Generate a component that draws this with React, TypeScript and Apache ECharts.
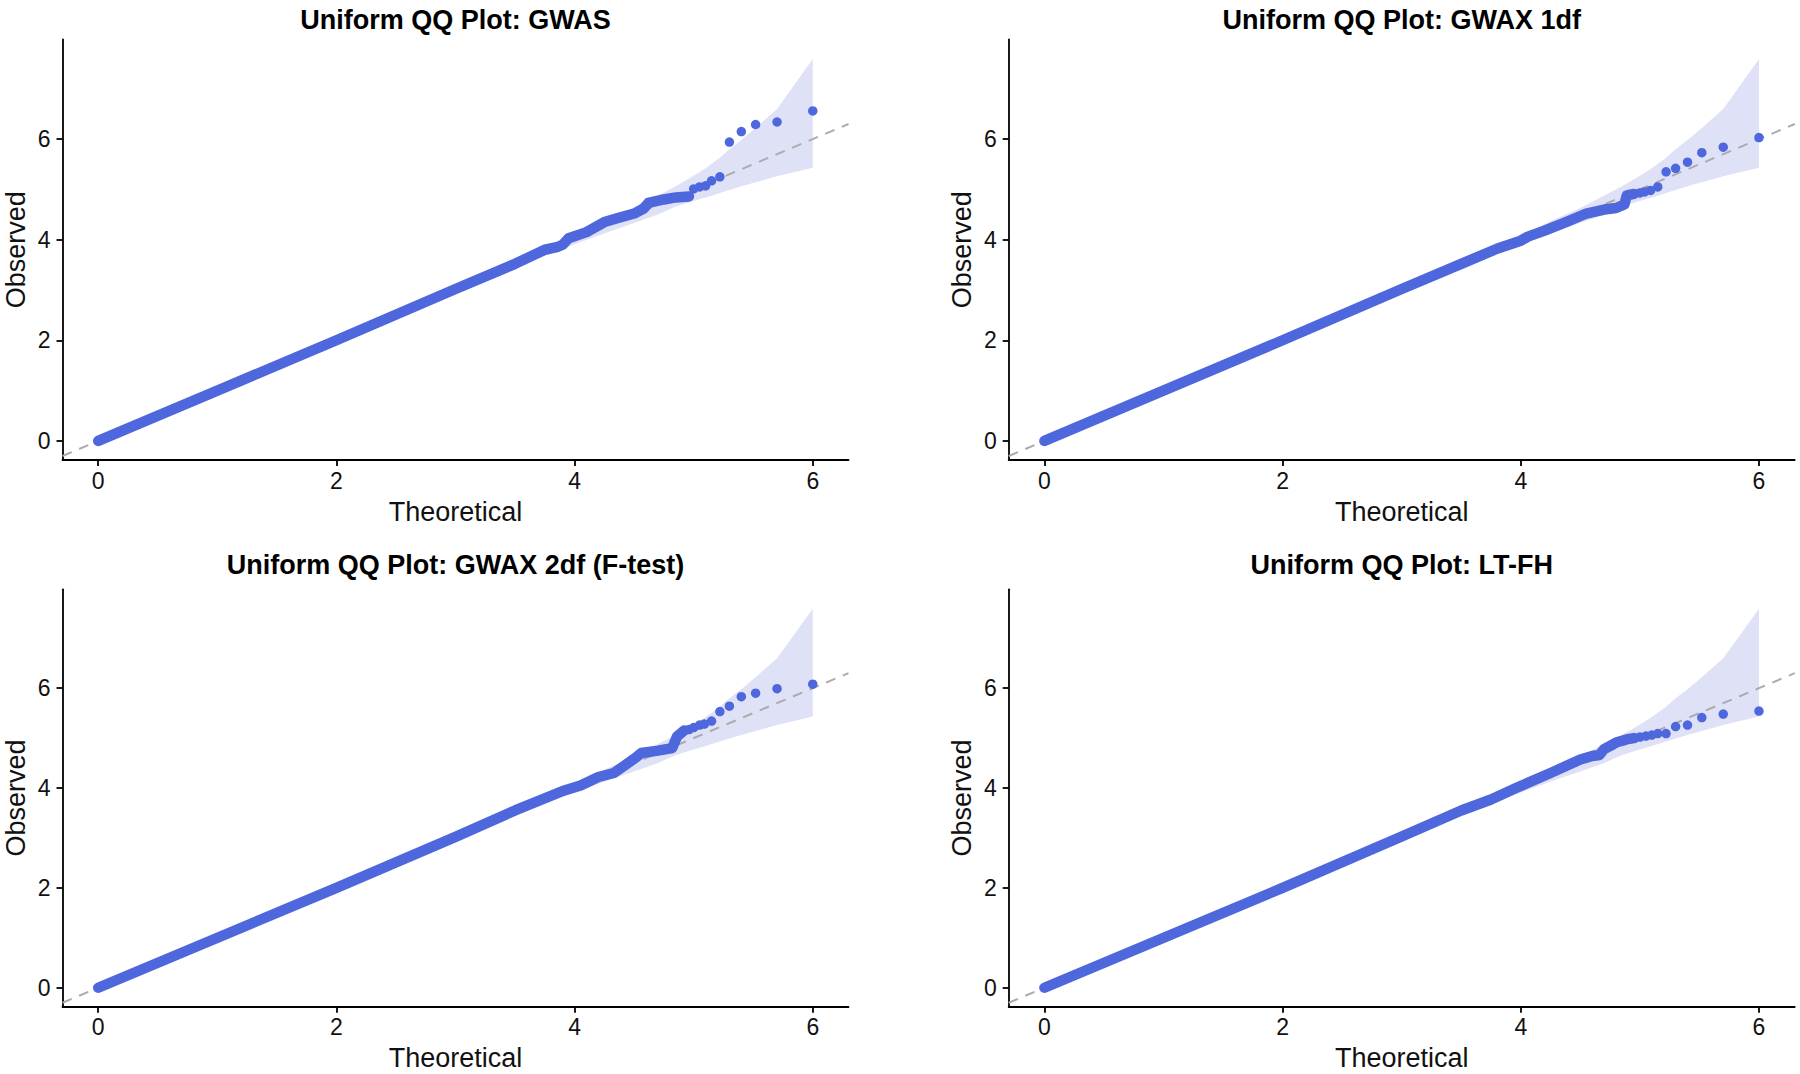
import React, { useEffect, useRef } from "react";
import * as echarts from "echarts";

// ---- Data ----
const tickValues = [0, 2, 4, 6];

const titles = [
  "Uniform QQ Plot: GWAS",
  "Uniform QQ Plot: GWAX 1df",
  "Uniform QQ Plot: GWAX 2df (F-test)",
  "Uniform QQ Plot: LT-FH",
];

// 95% confidence band (theoretical, lower, upper)
const bandX = [0, 1, 2, 3, 3.5, 4, 4.3, 4.5, 4.7, 4.85, 5.0, 5.1, 5.22, 5.3, 5.4, 5.52, 5.7, 6.0];
const bandLower = [0, 0.995, 1.985, 2.97, 3.45, 3.91, 4.17, 4.33, 4.5, 4.66, 4.77, 4.84, 4.93, 4.99, 5.06, 5.14, 5.26, 5.43];
const bandUpper = [0, 1.005, 2.015, 3.03, 3.55, 4.09, 4.42, 4.63, 4.88, 5.06, 5.27, 5.42, 5.63, 5.8, 5.98, 6.22, 6.6, 7.59];

// Dense bulk of points (drawn as a thick run of dots)
const gwasDense = [
  [0, 0], [1, 1], [2, 2], [3, 3.02], [3.5, 3.52], [3.75, 3.8], [3.85, 3.85], [3.9, 3.9],
  [3.95, 4.03], [4.1, 4.15], [4.25, 4.35], [4.35, 4.42], [4.5, 4.52], [4.58, 4.62],
  [4.62, 4.73], [4.75, 4.8], [4.85, 4.84], [4.96, 4.86],
];
const gwasTail = [
  [5.0, 5.01], [5.05, 5.05], [5.1, 5.07], [5.15, 5.17], [5.22, 5.25],
  [5.3, 5.94], [5.4, 6.15], [5.52, 6.29], [5.7, 6.34], [6.0, 6.56],
];

const gwax1Dense = [
  [0, 0], [2, 2], [3, 3.02], [3.5, 3.52], [3.8, 3.82], [4.0, 3.98], [4.06, 4.06],
  [4.2, 4.18], [4.4, 4.37], [4.55, 4.52], [4.7, 4.6], [4.8, 4.63], [4.87, 4.7],
  [4.89, 4.88], [4.95, 4.91],
];
const gwax1Tail = [
  [5.0, 4.93], [5.04, 4.95], [5.09, 4.98], [5.15, 5.05], [5.22, 5.35],
  [5.3, 5.42], [5.4, 5.54], [5.52, 5.73], [5.7, 5.84], [6.0, 6.03],
];

const gwax2Dense = [
  [0, 0], [2, 2], [3, 3.02], [3.5, 3.55], [3.9, 3.94], [4.05, 4.05], [4.2, 4.22],
  [4.33, 4.3], [4.42, 4.45], [4.52, 4.62], [4.56, 4.7], [4.7, 4.75], [4.82, 4.8],
  [4.86, 5.03], [4.92, 5.15],
];
const gwax2Tail = [
  [4.96, 5.17], [5.0, 5.21], [5.05, 5.26], [5.09, 5.28], [5.15, 5.34], [5.22, 5.53],
  [5.3, 5.64], [5.4, 5.83], [5.52, 5.9], [5.7, 5.99], [6.0, 6.08],
];

const ltfhDense = [
  [0, 0], [2, 2], [3, 3.03], [3.5, 3.55], [3.75, 3.77], [3.96, 4.0], [4.25, 4.3],
  [4.5, 4.57], [4.6, 4.64], [4.66, 4.66], [4.7, 4.78], [4.8, 4.91], [4.9, 4.98], [4.95, 5.0],
];
const ltfhTail = [
  [5.0, 5.02], [5.05, 5.04], [5.1, 5.06], [5.15, 5.09], [5.22, 5.09],
  [5.3, 5.23], [5.4, 5.26], [5.52, 5.41], [5.7, 5.48], [6.0, 5.54],
];

const denseSets = [gwasDense, gwax1Dense, gwax2Dense, ltfhDense];
const tailSets = [gwasTail, gwax1Tail, gwax2Tail, ltfhTail];
const refLine = [[-0.3, -0.3], [6.3, 6.3]];

// ---- Layout / style ----
const FONT = "'Liberation Sans', Arial, Helvetica, sans-serif";
const POINT = "#4E67DC";
const BAND = "#DFE1F6";
const grids = [
  { left: 62.5, top: 39.5, width: 786, height: 420.5 },
  { left: 1008.7, top: 39.5, width: 786, height: 420.5 },
  { left: 62.5, top: 589.3, width: 786, height: 417.4 },
  { left: 1008.7, top: 589.3, width: 786, height: 417.4 },
];
const titleTops = [1, 1, 546, 546];

export default function App() {
  const ref = useRef<HTMLDivElement>(null);

  useEffect(() => {
    if (!ref.current) return;
    const chart = echarts.init(ref.current, undefined, { renderer: "svg" });

    const axisCommon = {
      axisLine: { onZero: false, lineStyle: { color: "#000", width: 1.8 } },
      axisTick: { length: 6, lineStyle: { color: "#000", width: 1.8 }, customValues: tickValues },
      splitLine: { show: false },
    };

    const xAxis = grids.map((_, i) => ({
      type: "value",
      gridIndex: i,
      min: -0.3,
      max: 6.3,
      ...axisCommon,
      axisLabel: { customValues: tickValues, fontSize: 23, color: "#111", margin: 9, fontFamily: FONT },
      name: "Theoretical",
      nameLocation: "middle",
      nameGap: 38,
      nameTextStyle: { fontSize: 27, color: "#111", fontFamily: FONT },
    }));

    const yAxis = grids.map((_, i) => ({
      type: "value",
      gridIndex: i,
      min: -0.38,
      max: 7.98,
      ...axisCommon,
      axisLabel: { customValues: tickValues, fontSize: 23, color: "#111", margin: 12, fontFamily: FONT },
      name: "Observed",
      nameLocation: "middle",
      nameGap: 33,
      nameTextStyle: { fontSize: 27, color: "#111", fontFamily: FONT },
    }));

    const series: any[] = [];
    grids.forEach((_, i) => {
      series.push({
        type: "custom",
        xAxisIndex: i,
        yAxisIndex: i,
        silent: true,
        z: 1,
        data: bandX.map((x, k) => [x, bandLower[k], bandUpper[k]]),
        renderItem: (params: any, api: any) => {
          if (params.dataIndex !== 0) return null;
          const up = bandX.map((x, k) => api.coord([x, bandUpper[k]]));
          const lo = bandX.map((x, k) => api.coord([x, bandLower[k]])).reverse();
          return { type: "polygon", shape: { points: [...up, ...lo] }, style: { fill: BAND } };
        },
      });
      series.push({
        type: "line",
        xAxisIndex: i,
        yAxisIndex: i,
        silent: true,
        z: 2,
        showSymbol: false,
        data: refLine,
        lineStyle: { color: "#ABABAB", width: 2, type: [10, 8] },
      });
      series.push({
        type: "line",
        xAxisIndex: i,
        yAxisIndex: i,
        silent: true,
        z: 3,
        showSymbol: false,
        data: denseSets[i],
        lineStyle: { color: POINT, width: 10.5, cap: "round", join: "round" },
      });
      series.push({
        type: "scatter",
        xAxisIndex: i,
        yAxisIndex: i,
        silent: true,
        z: 4,
        symbolSize: 9.5,
        data: tailSets[i],
        itemStyle: { color: POINT, opacity: 1 },
      });
    });

    chart.setOption({
      animation: false,
      backgroundColor: "#fff",
      title: titles.map((t, i) => ({
        text: t,
        left: grids[i].left + grids[i].width / 2 - 5,
        top: titleTops[i],
        textAlign: "center",
        textStyle: { fontSize: 27, fontWeight: "bold", color: "#000", fontFamily: FONT },
      })),
      grid: grids.map((g) => ({ ...g, containLabel: false })),
      xAxis,
      yAxis,
      series,
    });

    return () => chart.dispose();
  }, []);

  return (
    <div
      ref={ref}
      style={{ position: "absolute", left: 0, top: 0, width: 1800, height: 1074, background: "#fff" }}
    />
  );
}
